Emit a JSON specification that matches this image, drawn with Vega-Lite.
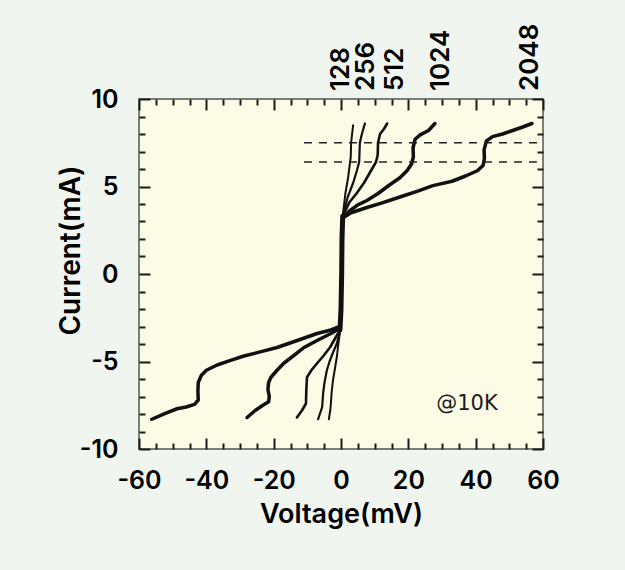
{
  "$schema": "https://vega.github.io/schema/vega-lite/v6.json",
  "width": 404,
  "height": 350,
  "autosize": {"type": "none"},
  "padding": {"left": 139, "top": 99, "right": 82, "bottom": 121},
  "background": "#f1f5ef",
  "config": {
    "view": {"stroke": "#555", "strokeWidth": 1.5, "fill": "#fbfbe6"},
    "axis": {"domain": false, "grid": false, "labelFont": "Inter", "labelFontSize": 25, "labelFontWeight": 600, "labelColor": "#000", "titleFont": "Inter", "titleFontSize": 27, "titleFontWeight": 600, "titleColor": "#000", "tickColor": "#1a1a1a", "tickWidth": 2, "labelFlush": false, "labelOverlap": false, "labelExpr": "'' + datum.value"}
  },
  "datasets": {
    "pos": [
      {"n": "core", "V": -0.3, "I": -3.2}, {"n": "core", "V": 0, "I": -2}, {"n": "core", "V": 0.2, "I": 0}, {"n": "core", "V": 0.3, "I": 2}, {"n": "core", "V": 0.5, "I": 3.3},
      {"n": "2048", "V": 0.5, "I": 3.2}, {"n": "2048", "V": 3, "I": 3.5}, {"n": "2048", "V": 7.7, "I": 3.8}, {"n": "2048", "V": 12, "I": 4.05}, {"n": "2048", "V": 17.5, "I": 4.4}, {"n": "2048", "V": 23, "I": 4.75}, {"n": "2048", "V": 27.3, "I": 5.05}, {"n": "2048", "V": 33, "I": 5.3}, {"n": "2048", "V": 37, "I": 5.6}, {"n": "2048", "V": 40.5, "I": 5.9}, {"n": "2048", "V": 42.2, "I": 6.2}, {"n": "2048", "V": 42.6, "I": 6.6}, {"n": "2048", "V": 42.5, "I": 7.1}, {"n": "2048", "V": 43.2, "I": 7.6}, {"n": "2048", "V": 45, "I": 7.85}, {"n": "2048", "V": 48, "I": 8.0}, {"n": "2048", "V": 51, "I": 8.2}, {"n": "2048", "V": 54, "I": 8.4}, {"n": "2048", "V": 56.7, "I": 8.6},
      {"n": "1024", "V": 0.5, "I": 3.2}, {"n": "1024", "V": 2.5, "I": 3.6}, {"n": "1024", "V": 5, "I": 3.95}, {"n": "1024", "V": 7.7, "I": 4.2}, {"n": "1024", "V": 11, "I": 4.6}, {"n": "1024", "V": 14.5, "I": 5.1}, {"n": "1024", "V": 17.5, "I": 5.5}, {"n": "1024", "V": 19.6, "I": 5.9}, {"n": "1024", "V": 21, "I": 6.3}, {"n": "1024", "V": 21.5, "I": 6.7}, {"n": "1024", "V": 21.4, "I": 7.2}, {"n": "1024", "V": 22, "I": 7.7}, {"n": "1024", "V": 23.5, "I": 7.95}, {"n": "1024", "V": 26, "I": 8.2}, {"n": "1024", "V": 27.9, "I": 8.6},
      {"n": "512", "V": 0.5, "I": 3.3}, {"n": "512", "V": 2.5, "I": 4.1}, {"n": "512", "V": 4.6, "I": 4.6}, {"n": "512", "V": 6.8, "I": 5.2}, {"n": "512", "V": 8.6, "I": 5.8}, {"n": "512", "V": 10.4, "I": 6.4}, {"n": "512", "V": 10.9, "I": 6.8}, {"n": "512", "V": 11, "I": 7.5}, {"n": "512", "V": 11.6, "I": 8.0}, {"n": "512", "V": 12.8, "I": 8.3}, {"n": "512", "V": 13.7, "I": 8.6},
      {"n": "256", "V": 0.5, "I": 3.3}, {"n": "256", "V": 2, "I": 4.4}, {"n": "256", "V": 3.6, "I": 5.2}, {"n": "256", "V": 4.7, "I": 5.9}, {"n": "256", "V": 5.4, "I": 6.4}, {"n": "256", "V": 5.6, "I": 7.5}, {"n": "256", "V": 6.2, "I": 8.0}, {"n": "256", "V": 7.1, "I": 8.6},
      {"n": "128", "V": 0.5, "I": 3.3}, {"n": "128", "V": 1.3, "I": 4.6}, {"n": "128", "V": 2.1, "I": 5.5}, {"n": "128", "V": 2.9, "I": 6.7}, {"n": "128", "V": 3.0, "I": 7.5}, {"n": "128", "V": 3.3, "I": 8.0}, {"n": "128", "V": 3.6, "I": 8.5}
    ],
    "neg": [
      {"n": "2048", "V": -56.2, "I": -8.3}, {"n": "2048", "V": -52, "I": -7.95}, {"n": "2048", "V": -48.7, "I": -7.7}, {"n": "2048", "V": -46, "I": -7.6}, {"n": "2048", "V": -43.5, "I": -7.45}, {"n": "2048", "V": -42.4, "I": -7.2}, {"n": "2048", "V": -42.5, "I": -6.7}, {"n": "2048", "V": -42.4, "I": -6.2}, {"n": "2048", "V": -41.5, "I": -5.8}, {"n": "2048", "V": -40, "I": -5.5}, {"n": "2048", "V": -36.8, "I": -5.2}, {"n": "2048", "V": -33, "I": -4.95}, {"n": "2048", "V": -29.1, "I": -4.7}, {"n": "2048", "V": -24, "I": -4.45}, {"n": "2048", "V": -19, "I": -4.2}, {"n": "2048", "V": -13, "I": -3.8}, {"n": "2048", "V": -7.1, "I": -3.4}, {"n": "2048", "V": -3, "I": -3.2}, {"n": "2048", "V": -0.3, "I": -3.0},
      {"n": "1024", "V": -27.9, "I": -8.2}, {"n": "1024", "V": -25.5, "I": -7.8}, {"n": "1024", "V": -23.2, "I": -7.5}, {"n": "1024", "V": -21.5, "I": -7.3}, {"n": "1024", "V": -21.3, "I": -7.0}, {"n": "1024", "V": -21.7, "I": -6.6}, {"n": "1024", "V": -21.5, "I": -6.2}, {"n": "1024", "V": -20.8, "I": -5.9}, {"n": "1024", "V": -19, "I": -5.5}, {"n": "1024", "V": -17, "I": -5.1}, {"n": "1024", "V": -14.3, "I": -4.7}, {"n": "1024", "V": -11, "I": -4.2}, {"n": "1024", "V": -7.1, "I": -3.8}, {"n": "1024", "V": -3, "I": -3.4}, {"n": "1024", "V": -0.3, "I": -3.1},
      {"n": "512", "V": -13.1, "I": -8.2}, {"n": "512", "V": -11.6, "I": -7.8}, {"n": "512", "V": -10.4, "I": -7.4}, {"n": "512", "V": -10.3, "I": -6.6}, {"n": "512", "V": -10.1, "I": -5.9}, {"n": "512", "V": -8.8, "I": -5.5}, {"n": "512", "V": -7.1, "I": -5.1}, {"n": "512", "V": -5.3, "I": -4.7}, {"n": "512", "V": -3.3, "I": -4.2}, {"n": "512", "V": -1.8, "I": -3.7}, {"n": "512", "V": -0.3, "I": -3.2},
      {"n": "256", "V": -6.8, "I": -8.3}, {"n": "256", "V": -5.6, "I": -7.6}, {"n": "256", "V": -5.3, "I": -6.8}, {"n": "256", "V": -4.9, "I": -6.2}, {"n": "256", "V": -4.2, "I": -5.5}, {"n": "256", "V": -3.4, "I": -5.0}, {"n": "256", "V": -2.4, "I": -4.5}, {"n": "256", "V": -1.3, "I": -4.0}, {"n": "256", "V": -0.3, "I": -3.3},
      {"n": "128", "V": -3.6, "I": -8.3}, {"n": "128", "V": -3.2, "I": -7.8}, {"n": "128", "V": -3.0, "I": -7.4}, {"n": "128", "V": -2.8, "I": -6.8}, {"n": "128", "V": -2.4, "I": -6.1}, {"n": "128", "V": -1.8, "I": -5.4}, {"n": "128", "V": -1.2, "I": -4.7}, {"n": "128", "V": -0.8, "I": -4.0}, {"n": "128", "V": -0.3, "I": -3.3}
    ],
    "dash": [{"I": 7.5}, {"I": 6.4}],
    "note": [{"V": 37.4, "I": -7.4, "label": "@10K"}],
    "top": [{"V": 0, "label": "128"}, {"V": 7.5, "label": "256"}, {"V": 16, "label": "512"}, {"V": 29.8, "label": "1024"}, {"V": 56, "label": "2048"}]
  },
  "resolve": {"axis": {"x": "independent", "y": "independent"}},
  "layer": [
    {
      "data": {"name": "pos"},
      "mark": {"type": "line", "color": "#111", "strokeCap": "round", "strokeJoin": "round"},
      "encoding": {
        "x": {"field": "V", "type": "quantitative", "scale": {"domain": [-60, 60], "nice": false, "zero": false},
          "axis": {"orient": "bottom", "values": [-60, -40, -20, 0, 20, 40, 60], "ticks": false, "tickSize": 0, "labelPadding": 39, "labelBaseline": "alphabetic", "title": "Voltage(mV)", "titleY": 73, "titleBaseline": "alphabetic"}},
        "y": {"field": "I", "type": "quantitative", "scale": {"domain": [-10, 10], "nice": false, "zero": false},
          "axis": {"orient": "left", "values": [-10, -5, 0, 5, 10], "ticks": false, "tickSize": 0, "labelPadding": 21, "title": "Current(mA)", "titleFontSize": 28, "titleX": -60, "titleY": 151, "titleAngle": 270, "titleAlign": "center", "titleBaseline": "alphabetic"}},
        "detail": {"field": "n"},
        "order": {"field": "I", "type": "quantitative"},
        "strokeWidth": {"field": "n", "type": "nominal", "scale": {"type": "ordinal", "domain": ["core", "128", "256", "512", "1024", "2048"], "range": [5, 2, 2.2, 2.6, 3.5, 3.5]}, "legend": null}
      }
    },
    {
      "data": {"name": "dash"},
      "mark": {"type": "rule", "color": "#222", "strokeWidth": 1.4, "strokeDash": [8, 7]},
      "encoding": {
        "x": {"datum": -11, "type": "quantitative", "scale": {"domain": [-60, 60], "nice": false, "zero": false},
          "axis": {"orient": "bottom", "values": [-60, -40, -20, 0, 20, 40, 60], "labels": false, "tickSize": -11, "title": null}},
        "x2": {"datum": 60},
        "y": {"field": "I", "type": "quantitative", "scale": {"domain": [-10, 10], "nice": false, "zero": false},
          "axis": {"orient": "left", "values": [-10, -5, 0, 5, 10], "labels": false, "tickSize": -11, "title": null}}
      }
    },
    {
      "data": {"name": "note"},
      "mark": {"type": "text", "font": "DejaVu Sans", "fontSize": 21, "color": "#1a1a1a", "align": "center", "baseline": "middle"},
      "encoding": {
        "x": {"field": "V", "type": "quantitative", "scale": {"domain": [-60, 60], "nice": false, "zero": false},
          "axis": {"orient": "bottom", "values": [-55, -50, -45, -35, -30, -25, -15, -10, -5, 5, 10, 15, 25, 30, 35, 45, 50, 55], "labels": false, "tickSize": -6, "title": null}},
        "y": {"field": "I", "type": "quantitative", "scale": {"domain": [-10, 10], "nice": false, "zero": false},
          "axis": {"orient": "left", "values": [-9, -8, -7, -6, -4, -3, -2, -1, 1, 2, 3, 4, 6, 7, 8, 9], "labels": false, "tickSize": -6, "title": null}},
        "text": {"field": "label"}
      }
    },
    {
      "data": {"name": "top"},
      "mark": {"type": "text", "font": "Inter", "fontSize": 26, "fontWeight": 600, "color": "#000", "angle": 270, "align": "left", "baseline": "middle", "dx": 8},
      "encoding": {
        "x": {"field": "V", "type": "quantitative", "scale": {"domain": [-60, 60], "nice": false, "zero": false},
          "axis": {"orient": "top", "values": [-60, -40, -20, 0, 20, 40, 60], "labels": false, "tickSize": -11, "title": null}},
        "y": {"datum": 10, "type": "quantitative", "scale": {"domain": [-10, 10], "nice": false, "zero": false},
          "axis": {"orient": "right", "values": [-10, -5, 0, 5, 10], "labels": false, "tickSize": -11, "title": null}},
        "text": {"field": "label"}
      }
    },
    {
      "data": {"name": "neg"},
      "mark": {"type": "line", "color": "#111", "strokeCap": "round", "strokeJoin": "round"},
      "encoding": {
        "x": {"field": "V", "type": "quantitative", "scale": {"domain": [-60, 60], "nice": false, "zero": false},
          "axis": {"orient": "top", "values": [-55, -50, -45, -35, -30, -25, -15, -10, -5, 5, 10, 15, 25, 30, 35, 45, 50, 55], "labels": false, "tickSize": -6, "title": null}},
        "y": {"field": "I", "type": "quantitative", "scale": {"domain": [-10, 10], "nice": false, "zero": false},
          "axis": {"orient": "right", "values": [-9, -8, -7, -6, -4, -3, -2, -1, 1, 2, 3, 4, 6, 7, 8, 9], "labels": false, "tickSize": -6, "title": null}},
        "detail": {"field": "n"},
        "order": {"field": "I", "type": "quantitative"},
        "strokeWidth": {"field": "n", "type": "nominal", "scale": {"type": "ordinal", "domain": ["core", "128", "256", "512", "1024", "2048"], "range": [5, 2, 2.2, 2.6, 3.5, 3.5]}, "legend": null}
      }
    }
  ]
}
